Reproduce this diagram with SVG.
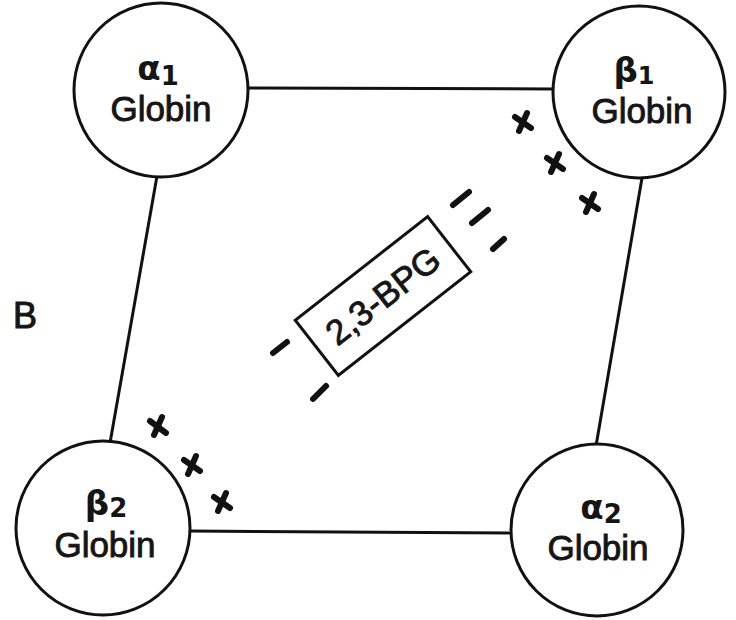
<svg xmlns="http://www.w3.org/2000/svg" width="736" height="620" viewBox="0 0 736 620">
  <style>
    .node { fill: #ffffff; stroke: #111111; stroke-width: 3; }
    .conn { stroke: #111111; stroke-width: 3; fill: none; }
    .lbl { font-family: "Liberation Sans", Arial, sans-serif; font-size: 35px; fill: #151515; stroke: #151515; stroke-width: 0.9; text-anchor: middle; }
    .greek { font-family: "DejaVu Sans", "Liberation Sans", sans-serif; font-size: 34px; font-weight: bold; fill: #151515; text-anchor: middle; }
    .dash { stroke: #111111; stroke-width: 6; stroke-linecap: round; }
    .x { stroke: #111111; stroke-width: 6; stroke-linecap: round; fill: none; }
  </style>
  <rect width="736" height="620" fill="#ffffff"/>

  <g id="connectors">
    <line class="conn" x1="248" y1="88" x2="553" y2="89"/>
    <line class="conn" x1="157" y1="176" x2="110" y2="443"/>
    <line class="conn" x1="642" y1="178" x2="596" y2="446"/>
    <line class="conn" x1="189" y1="531" x2="511" y2="533"/>
  </g>

  <g id="alpha1">
    <circle class="node" cx="161" cy="90" r="87"/>
    <text class="greek" x="158" y="80">α<tspan font-size="26" dy="5">1</tspan></text>
    <text class="lbl" x="161" y="121">Globin</text>
  </g>

  <g id="beta1">
    <circle class="node" cx="639" cy="92" r="86"/>
    <text class="greek" x="634" y="82">β<tspan font-size="24" dy="2">1</tspan></text>
    <text class="lbl" x="642" y="123">Globin</text>
  </g>

  <g id="beta2">
    <circle class="node" cx="103" cy="528" r="87"/>
    <text class="greek" x="106" y="515">β<tspan font-size="26" dy="2">2</tspan></text>
    <text class="lbl" x="105" y="557">Globin</text>
  </g>

  <g id="alpha2">
    <circle class="node" cx="597" cy="530" r="86"/>
    <text class="greek" x="601" y="519">α<tspan font-size="26" dy="4">2</tspan></text>
    <text class="lbl" x="598" y="560">Globin</text>
  </g>

  <g id="bpg">
    <g transform="translate(383,296) rotate(-38)">
      <rect x="-84" y="-35" width="168" height="70" fill="#ffffff" stroke="#111111" stroke-width="3"/>
      <text class="lbl" x="0" y="12" font-size="35">2,3-BPG</text>
    </g>
    <line class="dash" x1="453" y1="205" x2="469" y2="192"/>
    <line class="dash" x1="472" y1="223" x2="488" y2="210"/>
    <line class="dash" x1="493" y1="249" x2="504" y2="239"/>
    <line class="dash" x1="273" y1="353" x2="287" y2="342"/>
    <line class="dash" x1="313" y1="399" x2="326" y2="386"/>
  </g>

  <g id="label-B">
    <text x="13" y="328" font-family="'Liberation Sans', Arial, sans-serif" font-size="36" fill="#151515" stroke="#151515" stroke-width="1">B</text>
  </g>

  <g id="x-marks">
    <path class="x" d="M515,117 L531,128 M527,113 L519,131"/>
    <path class="x" d="M547,158 L563,169 M559,154 L551,172"/>
    <path class="x" d="M582,198 L598,209 M594,194 L586,212"/>
    <path class="x" d="M150,421 L166,433 M162,417 L154,435"/>
    <path class="x" d="M184,460 L200,471 M196,456 L188,474"/>
    <path class="x" d="M214,497 L230,508 M226,493 L218,511"/>
  </g>
</svg>
